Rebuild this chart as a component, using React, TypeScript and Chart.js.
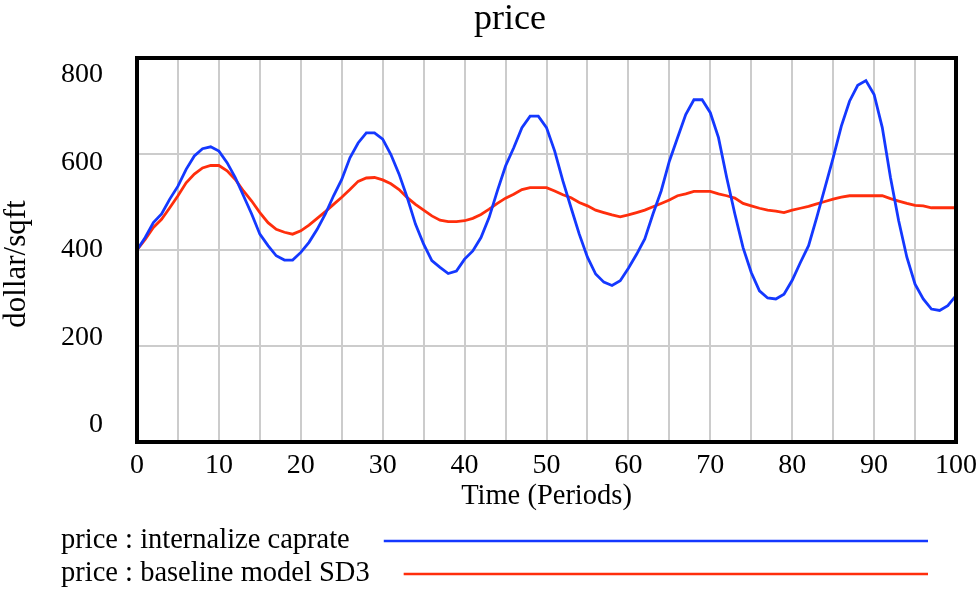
import React, { useEffect, useRef } from "react";
import { Chart, registerables } from "chart.js";

Chart.register(...registerables);

const TITLE = "price";
const Y_TITLE = "dollar/sqft";
const X_TITLE = "Time (Periods)";
const SERIES_NAMES = ["price : internalize caprate", "price : baseline model SD3"];
const SERIES_COLORS = ["#1438ff", "#ff2e0c"];
const Y_TICKS = [0, 200, 400, 600, 800];
const X_TICKS = [0, 10, 20, 30, 40, 50, 60, 70, 80, 90, 100];

const PERIODS = [
  0, 1, 2, 3, 4, 5, 6, 7, 8, 9, 10, 11, 12, 13, 14, 15, 16, 17, 18, 19, 20,
  21, 22, 23, 24, 25, 26, 27, 28, 29, 30, 31, 32, 33, 34, 35, 36, 37, 38, 39, 40,
  41, 42, 43, 44, 45, 46, 47, 48, 49, 50, 51, 52, 53, 54, 55, 56, 57, 58, 59, 60,
  61, 62, 63, 64, 65, 66, 67, 68, 69, 70, 71, 72, 73, 74, 75, 76, 77, 78, 79, 80,
  81, 82, 83, 84, 85, 86, 87, 88, 89, 90, 91, 92, 93, 94, 95, 96, 97, 98, 99, 100,
];

const INTERNALIZE_CAPRATE = [
  400, 426, 457, 475, 506, 533, 568, 596, 611, 615, 606,
  582, 551, 513, 475, 433, 409, 388, 379, 379, 395,
  416, 443, 475, 513, 547, 592, 623, 644, 644, 631,
  599, 558, 509, 454, 412, 378, 364, 351, 356, 381,
  398, 426, 468, 523, 575, 613, 655, 679, 679, 655,
  606, 544, 488, 433, 385, 350, 333, 326, 336, 362,
  391, 423, 475, 523, 585, 634, 682, 713, 713, 686,
  634, 551, 475, 405, 353, 315, 300, 298, 308, 337,
  374, 409, 468, 530, 592, 658, 710, 743, 753, 724,
  655, 551, 461, 385, 329, 298, 277, 274, 284, 305,
];

const BASELINE_SD3 = [
  400, 422, 447, 464, 488, 513, 540, 558, 571, 576, 576,
  565, 547, 523, 502, 478, 457, 443, 437, 433, 440,
  452, 466, 480, 495, 510, 526, 543, 550, 551, 546,
  538, 526, 509, 495, 483, 471, 462, 459, 459, 461,
  466, 474, 485, 497, 508, 516, 526, 530, 530, 530,
  523, 515, 509, 499, 492, 483, 478, 473, 469, 473,
  478, 483, 490, 497, 504, 513, 517, 522, 522, 522,
  517, 513, 508, 497, 492, 487, 483, 481, 478, 483,
  487, 491, 496, 501, 506, 510, 513, 513, 513, 513,
  513, 507, 502, 497, 493, 492, 488, 488, 488, 488,
];

const SERIES = [INTERNALIZE_CAPRATE, BASELINE_SD3];

const FONT = '"Liberation Serif", "Times New Roman", serif';

const decorPlugin = {
  id: "decor",
  afterDraw(chart: any) {
    const { ctx, chartArea: a, scales } = chart;
    const xs = scales.x;
    const ys = scales.y;
    ctx.save();

    // plot frame
    ctx.strokeStyle = "#000";
    ctx.lineWidth = 4;
    ctx.strokeRect(a.left, a.top, a.right - a.left, a.bottom - a.top);

    ctx.fillStyle = "#000";

    // title
    ctx.font = `36px ${FONT}`;
    ctx.textAlign = "center";
    ctx.textBaseline = "alphabetic";
    ctx.fillText(TITLE, 510, 29);

    // y tick labels (evenly spread between inset ends, Vensim style)
    ctx.font = `28px ${FONT}`;
    ctx.textAlign = "right";
    ctx.textBaseline = "middle";
    const yMin = ys.min;
    const yMax = ys.max;
    const topY = ys.getPixelForValue(yMax) + 17;
    const botY = ys.getPixelForValue(yMin) - 17;
    Y_TICKS.forEach((v) => {
      const t = (v - yMin) / (yMax - yMin);
      const y = botY - t * (botY - topY);
      ctx.fillText(String(v), 103, y);
    });

    // x tick labels
    ctx.textAlign = "center";
    X_TICKS.forEach((v) => {
      ctx.fillText(String(v), xs.getPixelForValue(v), a.bottom + 24);
    });

    // x title
    ctx.font = `28.5px ${FONT}`;
    ctx.fillText(X_TITLE, (a.left + a.right) / 2, a.bottom + 55);

    // y title
    ctx.save();
    ctx.font = `31px ${FONT}`;
    ctx.translate(17, 264);
    ctx.rotate(-Math.PI / 2);
    ctx.textAlign = "center";
    ctx.fillText(Y_TITLE, 0, 0);
    ctx.restore();

    // legend
    ctx.font = `28.5px ${FONT}`;
    const legY = [541, 574];
    SERIES_NAMES.forEach((name, i) => {
      ctx.textAlign = "left";
      ctx.fillStyle = "#000";
      ctx.fillText(name, 61, legY[i]);
      const w = ctx.measureText(name).width;
      ctx.strokeStyle = SERIES_COLORS[i];
      ctx.lineWidth = 2.5;
      ctx.beginPath();
      ctx.moveTo(61 + w + 34, legY[i]);
      ctx.lineTo(928, legY[i]);
      ctx.stroke();
    });

    ctx.restore();
  },
};

export default function App() {
  const canvasRef = useRef<HTMLCanvasElement | null>(null);

  useEffect(() => {
    const canvas = canvasRef.current;
    if (!canvas) return;
    const chart = new Chart(canvas, {
      type: "line",
      data: {
        datasets: SERIES.map((vals, i) => ({
          label: SERIES_NAMES[i],
          data: vals.map((v, j) => ({ x: PERIODS[j], y: v })),
          borderColor: SERIES_COLORS[i],
          backgroundColor: SERIES_COLORS[i],
          borderWidth: 2.8,
          pointRadius: 0,
          tension: 0,
          fill: false,
        })),
      },
      options: {
        responsive: false,
        animation: false,
        devicePixelRatio: 1,
        layout: { padding: { left: 137, top: 58, right: 21, bottom: 148 } },
        plugins: {
          legend: { display: false },
          title: { display: false },
          tooltip: { enabled: false },
        },
        scales: {
          x: {
            type: "linear",
            min: 0,
            max: 100,
            ticks: { display: false, stepSize: 5 },
            grid: { color: "#cccccc", lineWidth: 2, drawTicks: false },
            border: { display: false },
          },
          y: {
            type: "linear",
            min: 0,
            max: 800,
            ticks: { display: false, stepSize: 200 },
            grid: { color: "#cccccc", lineWidth: 2, drawTicks: false },
            border: { display: false },
          },
        },
      },
      plugins: [decorPlugin],
    });
    return () => chart.destroy();
  }, []);

  return (
    <div style={{ position: "absolute", left: 0, top: 0, width: 977, height: 590, background: "#fff" }}>
      <canvas ref={canvasRef} width={977} height={590} style={{ display: "block" }} />
    </div>
  );
}
